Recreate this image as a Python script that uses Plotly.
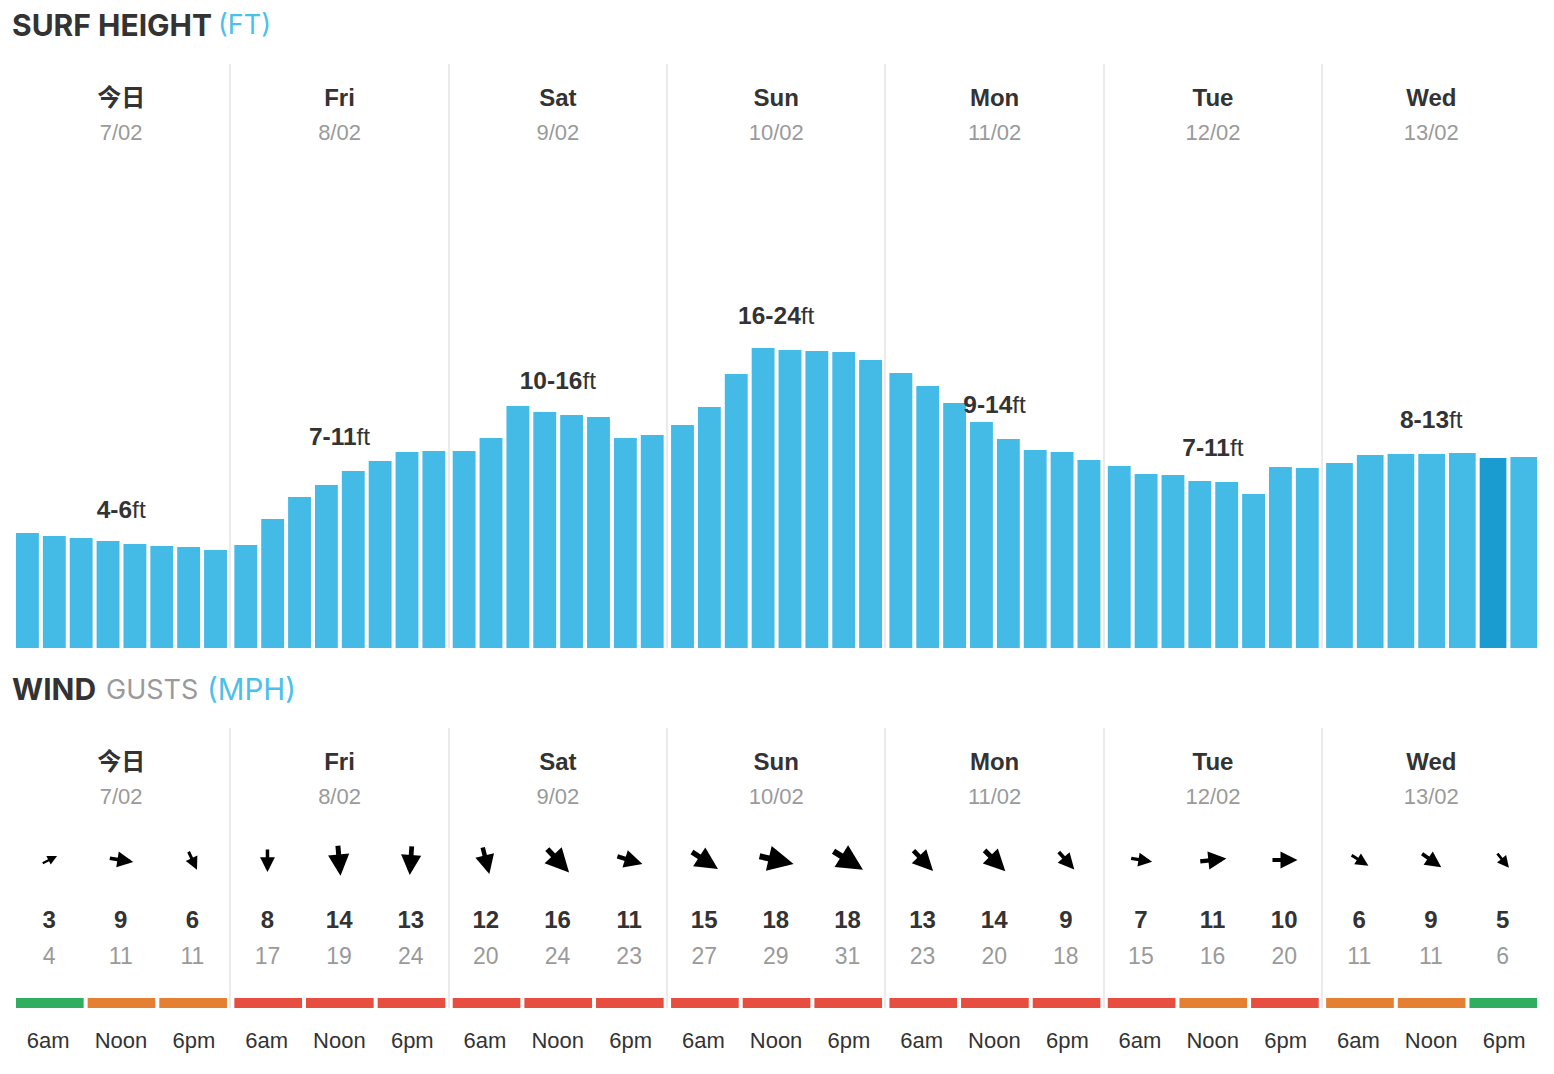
import math
import plotly.graph_objects as go

# ---------- data ----------
day_names = ["今日", "Fri", "Sat", "Sun", "Mon", "Tue", "Wed"]
day_dates = ["7/02", "8/02", "9/02", "10/02", "11/02", "12/02", "13/02"]
surf_ranges = ["4-6", "7-11", "10-16", "16-24", "9-14", "7-11", "8-13"]
surf_day1 = [115, 112, 110, 107, 104, 102, 101, 98]
surf_day2 = [103, 129, 151, 163, 177, 187, 196, 197]
surf_day3 = [197, 210, 242, 236, 233, 231, 210, 213]
surf_day4 = [223, 241, 274, 300, 298, 297, 296, 288]
surf_day5 = [275, 262, 245, 226, 209, 198, 196, 188]
surf_day6 = [182, 174, 173, 167, 166, 154, 181, 180]
surf_day7 = [185, 193, 194, 194, 195, 190, 191]
surf_days = [surf_day1, surf_day2, surf_day3, surf_day4, surf_day5, surf_day6, surf_day7]
highlight = (6, 5)
times = ["6am", "Noon", "6pm"]
wind_speed = [3, 9, 6, 8, 14, 13, 12, 16, 11, 15, 18, 18, 13, 14, 9, 7, 11, 10, 6, 9, 5]
wind_gust = [4, 11, 11, 17, 19, 24, 20, 24, 23, 27, 29, 31, 23, 20, 18, 15, 16, 20, 11, 11, 6]
wind_dir = [63, 99, 155, 180, 175, 184, 166, 137, 107, 123, 103, 122, 136, 135, 138, 99, 84, 90, 122, 125, 141]
rating = ["g", "o", "o", "r", "r", "r", "r", "r", "r", "r", "r", "r", "r", "r", "r", "r", "o", "r", "o", "o", "g"]

# ---------- style ----------
W, H = 1554, 1074
X0, X1 = 12, 1540.5
DAY_PX = (X1 - X0) / 7
BLUE, DARK_BLUE = "#44BAE7", "#1A9CD0"
INK, GREY, GRID = "#333333", "#9A9A9A", "#EBEBEB"
LIGHT_BLUE = "#4CC0EB"
RATE = {"g": "#2FAE60", "o": "#E57F31", "r": "#E74E40"}
SANS = "Liberation Sans, Noto Sans CJK SC, sans-serif"
HEAD = "Inter, Open Sans, sans-serif"
PAD_L = 2 / DAY_PX
PAD_R = 1.4 / DAY_PX
GAP = 4 / DAY_PX
TIME_SHIFT = [-1.6 / DAY_PX, -0.5 / DAY_PX, 0.8 / DAY_PX]
NUM_SHIFT = -0.7 / DAY_PX


def slot(d, i, n):
    return d + PAD_L + (1 - PAD_L - PAD_R) * (i + 0.5) / n


def dom(top, bottom):
    return [1 - bottom / H, 1 - top / H]


fig = go.Figure()

# surf bars
bx, by, bw, bc = [], [], [], []
for d, vals in enumerate(surf_days):
    n = len(vals)
    for i, v in enumerate(vals):
        bx.append(slot(d, i, n))
        by.append(v)
        bw.append((1 - PAD_L - PAD_R) / n - GAP)
        bc.append(DARK_BLUE if (d, i) == highlight else BLUE)
fig.add_trace(go.Bar(x=bx, y=by, width=bw, marker=dict(color=bc, line_width=0), xaxis="x", yaxis="y", hoverinfo="y"))

centers = [d + 0.5 for d in range(7)]
LABEL_Y = [138, 211, 267, 332, 243, 200, 228]


def text_trace(x, y, text, size, color, xa, ya):
    return go.Scatter(x=x, y=y, text=text, mode="text", textposition="middle center", cliponaxis=False,
                      textfont=dict(family=SANS, size=size, color=color), xaxis=xa, yaxis=ya, hoverinfo="skip")


fig.add_trace(text_trace(centers, [548.5] * 7, [f"<b>{n}</b>" for n in day_names], 24, INK, "x", "y"))
fig.add_trace(text_trace(centers, [513.5] * 7, day_dates, 22, GREY, "x", "y"))
fig.add_trace(text_trace(centers, [v - 1.5 for v in LABEL_Y], [f"<b>{r}</b>ft" for r in surf_ranges], 24.5, INK, "x", "y"))

# wind panel
fig.add_trace(text_trace(centers, [35.5] * 7, [f"<b>{n}</b>" for n in day_names], 24, INK, "x2", "y2"))
fig.add_trace(text_trace(centers, [70.5] * 7, day_dates, 22, GREY, "x2", "y2"))
wx = [slot(d, i, 3) for d in range(7) for i in range(3)]
nx = [x + NUM_SHIFT for x in wx]
fig.add_trace(text_trace(nx, [194] * 21, [f"<b>{v}</b>" for v in wind_speed], 24, INK, "x2", "y2"))
fig.add_trace(text_trace(nx, [230.5] * 21, [str(v) for v in wind_gust], 23, GREY, "x2", "y2"))

# rating strip
fig.add_trace(go.Bar(x=wx, y=[1] * 21, width=(1 - PAD_L - PAD_R) / 3 - GAP,
                     marker=dict(color=[RATE[r] for r in rating], line_width=0),
                     xaxis="x3", yaxis="y3", hoverinfo="skip"))

# wind arrows
annotations = []
for x, s, a in zip(nx, wind_speed, wind_dir):
    L = 14 + 1.25 * s
    th = math.radians(a)
    dx, dy = L * math.sin(th), -L * math.cos(th)
    annotations.append(dict(x=x, y=132, xref="x2", yref="y2", text="", showarrow=True, arrowhead=2,
                            arrowsize=0.85, arrowwidth=1.5 + 0.25 * s, arrowcolor="#000000",
                            ax=-dx, ay=-dy, xshift=dx / 2, yshift=-dy / 2, standoff=0))


def heading(x, y, text, size, color, bold=False):
    return dict(x=x / W, y=1 - y / H, xref="paper", yref="paper", xanchor="left", yanchor="middle", showarrow=False,
                font=dict(family=HEAD, size=size, color=color), text=f"<b>{text}</b>" if bold else text,
                borderpad=0, borderwidth=0)


annotations += [
    heading(12, 25, "SURF HEIGHT", 30, INK, True),
    heading(218, 25, "(FT)", 27, LIGHT_BLUE),
    heading(12, 689, "WIND", 30, INK, True),
    heading(106, 689, "GUSTS", 27, GREY),
    heading(207, 689, "(MPH)", 29.5, LIGHT_BLUE),
]

xdom = [X0 / W, X1 / W]
grid = dict(range=[0, 7], domain=xdom, tickmode="linear", tick0=0, dtick=1, showgrid=True, gridcolor=GRID,
            gridwidth=2, zeroline=False, showticklabels=False, ticks="", showline=False, fixedrange=True)
fig.update_layout(
    width=W, height=H, margin=dict(l=0, r=0, t=0, b=0), paper_bgcolor="white", plot_bgcolor="rgba(0,0,0,0)",
    showlegend=False, annotations=annotations,
    xaxis=dict(grid),
    yaxis=dict(domain=dom(64, 648), range=[0, 584], visible=False, fixedrange=True),
    xaxis2=dict(grid, anchor="y2"),
    yaxis2=dict(domain=dom(728, 1008), range=[280, 0], visible=False, fixedrange=True, anchor="x2"),
    xaxis3=dict(range=[0, 7], domain=xdom, anchor="y3", tickmode="array",
                tickvals=[x + TIME_SHIFT[k % 3] for k, x in enumerate(wx)], ticktext=times * 7,
                tickfont=dict(family=SANS, size=22, color=INK), ticks="outside", ticklen=13,
                tickcolor="rgba(0,0,0,0)", showgrid=False, zeroline=False, showline=False, fixedrange=True),
    yaxis3=dict(domain=dom(998, 1008), range=[0, 1], visible=False, fixedrange=True, anchor="x3"),
)

fig.write_html("out.html", post_script="document.body.style.margin='0';", config={"displayModeBar": False})
